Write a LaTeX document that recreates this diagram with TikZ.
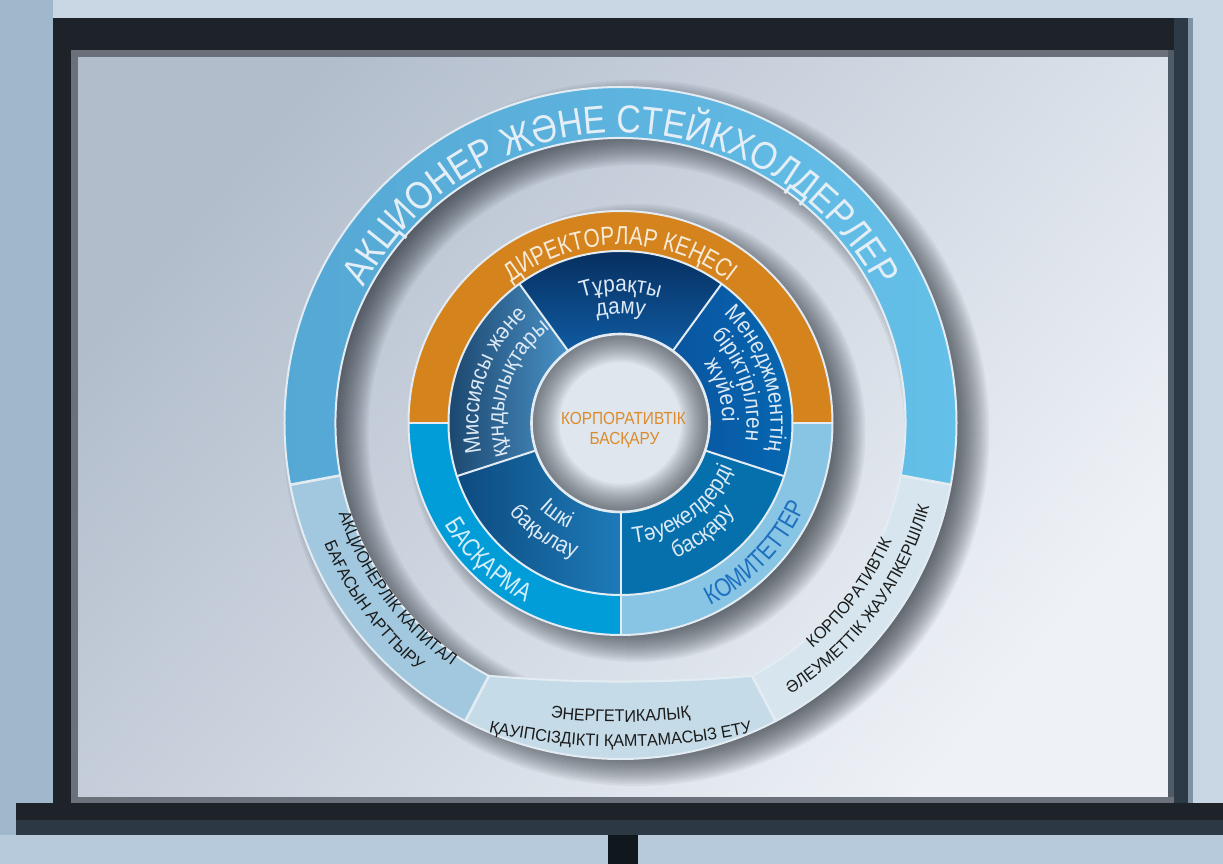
\documentclass[tikz,border=0pt]{standalone}
\usepackage{fontspec}
\setmainfont{Liberation Sans}
\newfontfamily\fOut{Liberation Sans}[FakeStretch=0.87]
\newfontfamily\fMid{Liberation Sans}[FakeStretch=0.8]
\newfontfamily\fSec{Liberation Sans}[FakeStretch=0.9]
\newfontfamily\fLow{Liberation Sans}[FakeStretch=0.95]
\newfontfamily\fCen{Liberation Sans}[FakeStretch=0.88]
\usetikzlibrary{decorations.text}

\definecolor{bgout}{HTML}{C9D6E3}
\definecolor{bgleft}{HTML}{9FB8CC}
\definecolor{bgbot}{HTML}{B6CADB}
\definecolor{scrTL}{HTML}{B2BDCC}
\definecolor{scrBR}{HTML}{EEF2F7}
\definecolor{framedark}{HTML}{1E2329}
\definecolor{framegray}{HTML}{6A717A}
\definecolor{framedarkB}{HTML}{2B3A46}
\definecolor{framegrayB}{HTML}{4F5B67}
\definecolor{framegrayC}{HTML}{7D93A3}
\definecolor{framedarkC}{HTML}{2C3944}
\definecolor{stemcol}{HTML}{10181E}
\definecolor{shadowC}{HTML}{20262E}
\definecolor{bandL}{HTML}{55A7D4}
\definecolor{bandR}{HTML}{65C1E9}
\definecolor{segL}{HTML}{A2C8DF}
\definecolor{segB}{HTML}{C5DBE8}
\definecolor{segR}{HTML}{D7E6EE}
\definecolor{orangeC}{HTML}{D5831D}
\definecolor{basqC}{HTML}{009DD9}
\definecolor{komC}{HTML}{88C4E3}
\definecolor{sAtop}{HTML}{062A58}
\definecolor{sAbot}{HTML}{0F5BA2}
\definecolor{sBl}{HTML}{0A55A0}
\definecolor{sBr}{HTML}{0569B3}
\definecolor{sC}{HTML}{0670AC}
\definecolor{sDl}{HTML}{0D4A80}
\definecolor{sDr}{HTML}{1D7BB8}
\definecolor{sEl}{HTML}{173E64}
\definecolor{sEr}{HTML}{4992C7}
\definecolor{centerC}{HTML}{DFE6EE}
\definecolor{edgeC}{HTML}{E4ECF3}
\definecolor{outtxt}{HTML}{E3EEF7}
\definecolor{dirtxt}{HTML}{F7EAD8}
\definecolor{basqtxt}{HTML}{D5EEFA}
\definecolor{komtxt}{HTML}{1D6FC0}
\definecolor{sectxt}{HTML}{DDE9F5}
\definecolor{lowtxt}{HTML}{1B1B1B}
\definecolor{cenC}{HTML}{DC8B2B}

% clockwise text (letters point outward)
\newcommand{\cwtext}[6]{%
  \pgfmathsetmacro{\cvA}{#1+#3}\pgfmathsetmacro{\cvB}{#1-#3}%
  \path[decorate,decoration={text along path,text align=center,text color=#5,text={|#4|#6}}]
    (\cvA:#2) arc[start angle=\cvA,end angle=\cvB,radius=#2];}
% counter-clockwise text (letters point inward); optional centre shift
\newcommand{\ccwtext}[7][0,0]{%
  \pgfmathsetmacro{\cvA}{#2-#4}\pgfmathsetmacro{\cvB}{#2+#4}%
  \path[shift={(#1)},decorate,decoration={text along path,text align=center,text color=#6,text={|#5|#7}}]
    (\cvA:#3) arc[start angle=\cvA,end angle=\cvB,radius=#3];}

\tikzset{
  edgeline/.style={draw=edgeC,line width=2pt},
  gapline/.style={draw=edgeC,line width=2.6pt},
  shadowstroke/.style={draw=shadowC,opacity=0.05,line width=#1},
  shadowfill/.style={fill=shadowC,opacity=0.055},
}

\begin{document}
\begin{tikzpicture}[x=1pt,y=1pt]
\useasboundingbox (-620.5,-441) rectangle (602.5,423);
% ---------- surroundings ----------
\fill[bgout] (-620.5,-441) rectangle (602.5,423);
\fill[bgleft] (-620.5,-441) rectangle (-567.5,423);
\fill[bgbot] (-620.5,-441) rectangle (602.5,-412);
% ---------- screen ----------
\shade[top color=scrTL,bottom color=scrBR,shading angle=50] (-542.5,-374) rectangle (547.5,366);
% ---------- frame ----------
\fill[framedark] (-567.5,-412) rectangle (-549,405);
\fill[framegray] (-549,-380) rectangle (-542.5,373);
\fill[framedark] (-567.5,373) rectangle (572.5,405);
\fill[framegray] (-549,366) rectangle (553,373);
\fill[framedarkB] (553,-380) rectangle (567,405);
\fill[framegrayB] (547.5,-380) rectangle (553,373);
\fill[framegrayC] (567,-380) rectangle (572.5,405);
\fill[framegray] (-549,-380) rectangle (553,-374);
\fill[framedark] (-604.5,-397) rectangle (602.5,-380);
\fill[framedarkC] (-604.5,-412) rectangle (602.5,-397);
\fill[stemcol] (-12.5,-441) rectangle (17.5,-412);

% ---------- soft shadows (offset right / down) ----------
\foreach \k in {0,...,17}{
  \pgfmathsetmacro{\ro}{336-18+2*\k+1}
  \pgfmathsetmacro{\ri}{285+18-2*\k-1}
  \fill[shadowfill,even odd rule] (16,-10) circle[radius=\ro] (16,-10) circle[radius=\ri];}
\foreach \k in {0,...,17}{
  \pgfmathsetmacro{\ro}{212-18+2*\k+1}
  \fill[shadowfill] (16,-10) circle[radius=\ro];}

% ---------- outer ring ----------
\fill[left color=bandL,right color=bandR]
  (-10.6:336) arc[start angle=-10.6,end angle=190.6,radius=336]
  -- (190.6:285) arc[start angle=190.6,end angle=-10.6,radius=285] -- cycle;
\fill[segL] (190.6:336) arc[start angle=190.6,end angle=242.5,radius=336]
  -- (242.5:285) arc[start angle=242.5,end angle=190.6,radius=285] -- cycle;
\fill[segB] (242.5:336) arc[start angle=242.5,end angle=297.5,radius=336]
  -- (297.5:285) arc[start angle=275.033,end angle=264.967,radius=1500] -- cycle;
\fill[segR] (297.5:336) arc[start angle=297.5,end angle=349.4,radius=336]
  -- (349.4:285) arc[start angle=349.4,end angle=297.5,radius=285] -- cycle;
\draw[edgeline] (0,0) circle[radius=336];
\draw[edgeline] (297.5:285) arc[start angle=-62.5,end angle=242.5,radius=285]
    arc[start angle=264.967,end angle=275.033,radius=1500];
\draw[gapline] (190.6:285) -- (190.6:336);
\draw[gapline] (349.4:285) -- (349.4:336);
\draw[gapline] (242.5:285) -- (242.5:336);
\draw[gapline] (297.5:285) -- (297.5:336);

% ---------- middle ring ----------
\fill[orangeC] (0:212) arc[start angle=0,end angle=180,radius=212]
  -- (180:172) arc[start angle=180,end angle=0,radius=172] -- cycle;
\fill[basqC] (180:212) arc[start angle=180,end angle=270,radius=212]
  -- (270:172) arc[start angle=270,end angle=180,radius=172] -- cycle;
\fill[komC] (270:212) arc[start angle=270,end angle=360,radius=212]
  -- (360:172) arc[start angle=360,end angle=270,radius=172] -- cycle;

% ---------- sector ring ----------
\fill[top color=sAtop,bottom color=sAbot] (54:172) arc[start angle=54,end angle=126,radius=172]
  -- (126:89) arc[start angle=126,end angle=54,radius=89] -- cycle;
\fill[left color=sEl,right color=sEr] (126:172) arc[start angle=126,end angle=198,radius=172]
  -- (198:89) arc[start angle=198,end angle=126,radius=89] -- cycle;
\fill[left color=sDl,right color=sDr] (198:172) arc[start angle=198,end angle=270,radius=172]
  -- (270:89) arc[start angle=270,end angle=198,radius=89] -- cycle;
\fill[sC] (270:172) arc[start angle=270,end angle=342,radius=172]
  -- (342:89) arc[start angle=342,end angle=270,radius=89] -- cycle;
\fill[left color=sBl,right color=sBr] (-18:172) arc[start angle=-18,end angle=54,radius=172]
  -- (54:89) arc[start angle=54,end angle=-18,radius=89] -- cycle;

% ---------- centre ----------
\fill[centerC] (0,0) circle[radius=89];
\begin{scope}
  \clip (0,0) circle[radius=89];
  \foreach \w in {4,8,...,56}{
    \draw[shadowstroke=\w pt] (0,0) circle[radius=89];}
\end{scope}

% ---------- separating lines ----------
\draw[edgeline] (0,0) circle[radius=212];
\draw[edgeline] (0,0) circle[radius=172];
\draw[gapline] (0,0) circle[radius=89];
\draw[gapline] (-212,0) -- (-172,0);
\draw[gapline] (172,0) -- (212,0);
\draw[edgeline] (0,-172) -- (0,-212);
\foreach \a in {54,126,198,270,342}{
  \draw[edgeline] (\a:89) -- (\a:172);}

% ---------- texts ----------
\cwtext{90}{290}{80}{\fontsize{39}{40}\fOut}{outtxt}{АКЦИОНЕР ЖӘНЕ СТЕЙКХОЛДЕРЛЕР}

\cwtext{90}{178}{70}{\fontsize{26}{28}\fMid}{dirtxt}{ДИРЕКТОРЛАР КЕҢЕСІ}
\ccwtext{226}{203}{30}{\fontsize{26}{28}\fMid}{basqtxt}{БАСҚАРМА}
\ccwtext{316}{203}{32}{\fontsize{26}{28}\fMid}{komtxt}{КОМИТЕТТЕР}

\cwtext{90}{131}{50}{\fontsize{23}{25}\fSec}{sectxt}{Тұрақты}
\cwtext{90}{109}{50}{\fontsize{23}{25}\fSec}{sectxt}{даму}
\cwtext{18}{150}{50}{\fontsize{23}{25}\fSec}{sectxt}{Менеджменттің}
\cwtext{18}{126}{55}{\fontsize{23}{25}\fSec}{sectxt}{біріктірілген}
\cwtext{18}{102}{55}{\fontsize{23}{25}\fSec}{sectxt}{жүйесі}
\cwtext{161.5}{142}{55}{\fontsize{23}{25}\fSec}{sectxt}{Миссиясы және}
\cwtext{161.5}{117}{60}{\fontsize{23}{25}\fSec}{sectxt}{құндылықтары}
\ccwtext{307}{121}{60}{\fontsize{23}{25}\fSec}{sectxt}{Тәуекелдерді}
\ccwtext{307}{146}{50}{\fontsize{23}{25}\fSec}{sectxt}{басқару}
\ccwtext{235}{118}{50}{\fontsize{23}{25}\fSec}{sectxt}{Ішкі}
\ccwtext{235}{143}{50}{\fontsize{23}{25}\fSec}{sectxt}{бақылау}

\ccwtext[0,301]{270}{600}{15}{\fontsize{17}{19}\fLow}{lowtxt}{ЭНЕРГЕТИКАЛЫҚ}
\ccwtext[0,276.3]{270}{600}{20}{\fontsize{17}{19}\fLow}{lowtxt}{ҚАУІПСІЗДІКТІ ҚАМТАМАСЫЗ ЕТУ}
\ccwtext{216.5}{296}{30}{\fontsize{17}{19}\fLow}{lowtxt}{АКЦИОНЕРЛІК КАПИТАЛ}
\ccwtext{216.5}{320}{30}{\fontsize{17}{19}\fLow}{lowtxt}{БАҒАСЫН АРТТЫРУ}
\ccwtext{323.5}{296}{30}{\fontsize{17}{19}\fLow}{lowtxt}{КОРПОРАТИВТІК}
\ccwtext{323.5}{320}{30}{\fontsize{17}{19}\fLow}{lowtxt}{ӘЛЕУМЕТТІК ЖАУАПКЕРШІЛІК}

\node[name=cenA,anchor=base,inner sep=0pt,text=cenC,font=\fontsize{17.5}{19}\fCen] at (3,-2) {КОРПОРАТИВТІК};
\node[name=cenB,anchor=base,inner sep=0pt,text=cenC,font=\fontsize{17.5}{19}\fCen] at (4,-22) {БАСҚАРУ};
\end{tikzpicture}
\end{document}
